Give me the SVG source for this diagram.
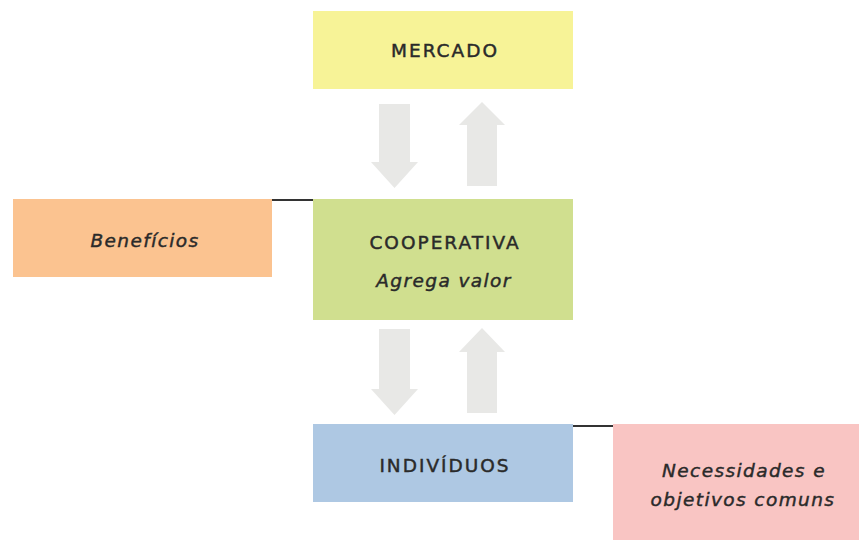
<svg xmlns="http://www.w3.org/2000/svg" width="859" height="540" viewBox="0 0 859 540">
<style>
.t{font-family:"DejaVu Sans","Liberation Sans",sans-serif;font-size:18.5px;letter-spacing:2px;fill:#2a2a2a;stroke:#2a2a2a;stroke-width:0.45px;text-anchor:middle}
.i{font-style:italic;letter-spacing:1.4px}
.arr{fill:#e8e8e6}
.ln{stroke:#333;stroke-width:2}
</style>
<rect width="859" height="540" fill="#fff"/>
<g id="connectors">
<polygon class="arr" points="379,104 410,104 410,162 418,162 394.5,188 371,162 379,162"/>
<polygon class="arr" points="482,102 505,125 497,125 497,186 467,186 467,125 459,125"/>
<polygon class="arr" points="379,329 410,329 410,389 418,389 394.5,415 371,389 379,389"/>
<polygon class="arr" points="482,328 505,352 497,352 497,413 467,413 467,352 459,352"/>
<line class="ln" x1="272" y1="200" x2="313" y2="200"/>
<line class="ln" x1="573" y1="426" x2="613" y2="426"/>
</g>
<g id="mercado">
<rect x="313" y="11" width="260" height="78" fill="#f7f397"/>
<text class="t" x="445" y="57">MERCADO</text>
</g>
<g id="cooperativa">
<rect x="313" y="199" width="260" height="121" fill="#d0df8f"/>
<text class="t" x="445" y="249">COOPERATIVA</text>
<text class="t i" x="444" y="287">Agrega valor</text>
</g>
<g id="beneficios">
<rect x="13" y="199" width="259" height="78" fill="#fbc390"/>
<text class="t i" x="145" y="247">Benefícios</text>
</g>
<g id="individuos">
<rect x="313" y="424" width="260" height="78" fill="#aec8e3"/>
<text class="t" x="445" y="472">INDIVÍDUOS</text>
</g>
<g id="necessidades">
<rect x="613" y="424" width="246" height="116" fill="#f9c5c3"/>
<text class="t i" x="744" y="477">Necessidades e</text>
<text class="t i" x="743" y="506">objetivos comuns</text>
</g>
</svg>
